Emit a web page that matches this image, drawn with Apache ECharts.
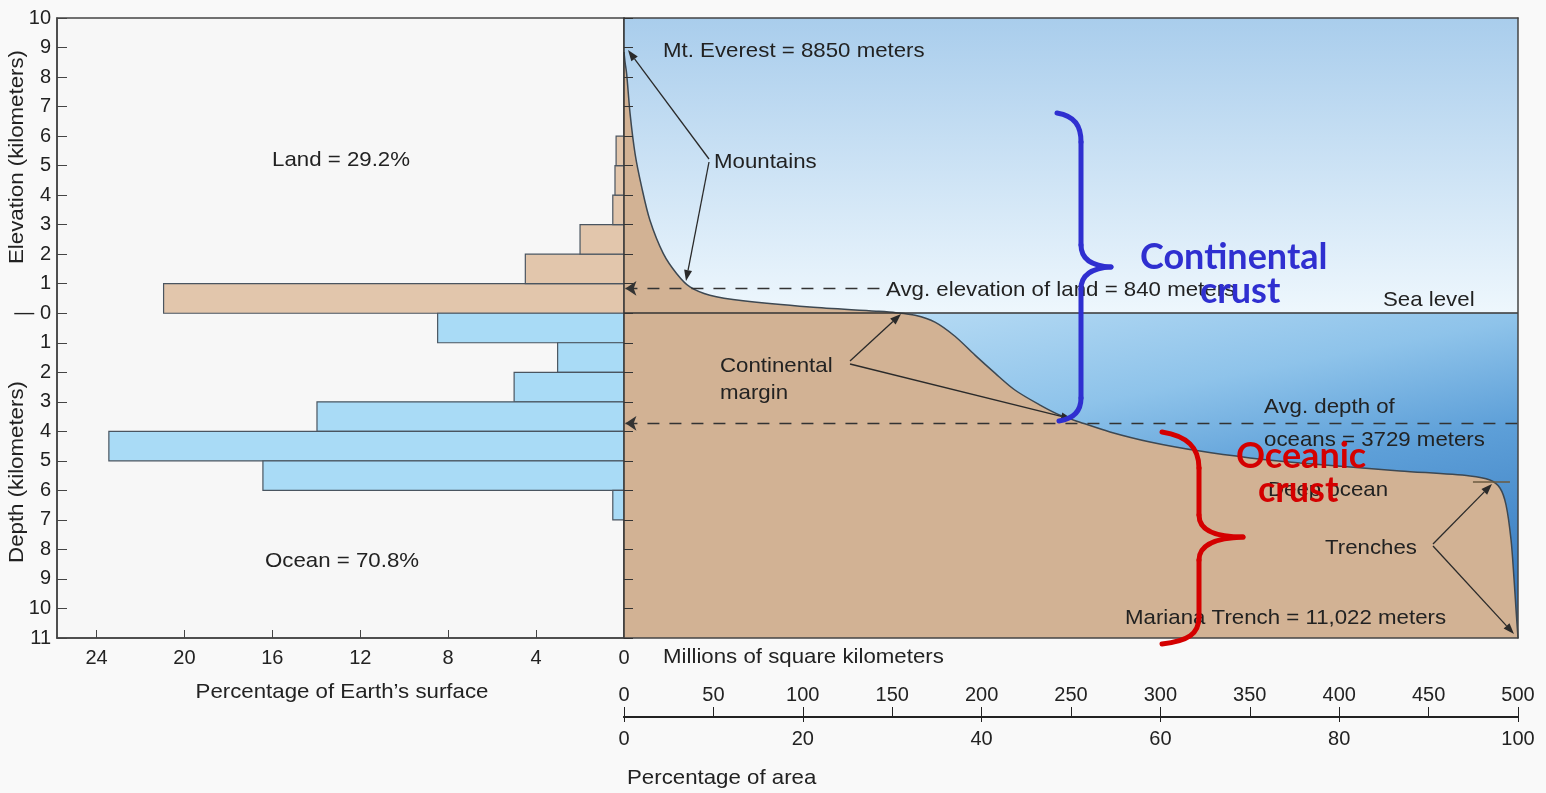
<!DOCTYPE html>
<html>
<head>
<meta charset="utf-8">
<title>Hypsometric curve</title>
<script src="https://cdn.jsdelivr.net/npm/echarts@6/dist/echarts.min.js"></script>
<style>
  html, body { margin: 0; padding: 0; background: #f9f9f9; }
  #chart { width: 1546px; height: 793px; }
</style>
</head>
<body>
<div id="chart"></div>
<script>
// histogram: percentage of Earth's surface per 1 km band
var landBandLow = [0, 1, 2, 3, 4, 5];
var landPct = [20.95, 4.49, 2.0, 0.51, 0.41, 0.36];
var oceanBandLow = [-1, -2, -3, -4, -5, -6, -7];
var oceanPct = [8.48, 3.02, 5.0, 13.97, 23.44, 16.43, 0.51];

// hypsometric curve: cumulative area (millions km2) vs elevation (km)
var curveArea = [0, 0.6, 1.5, 3.4, 6.2, 9.9, 14.5, 22, 29.5, 36.9, 48, 66.6, 104, 141, 152,
  162.8, 173.9, 185.1, 196.3, 207.5, 218.6, 232.7, 243.8, 255, 271.8, 294.2, 322.1, 350.1,
  378.1, 434, 473.2, 484.3, 489.9, 493.3, 496.1, 497.8, 498.9, 500];
var curveElev = [8.85, 8.5, 8.1, 6.76, 5.4, 4.27, 3.15, 2.02, 1.34, 0.89, 0.61, 0.42, 0.21, 0.07, 0.02,
  -0.07, -0.3, -0.78, -1.42, -2.03, -2.6, -3.11, -3.45, -3.69, -4.02, -4.36, -4.67, -4.9,
  -5.07, -5.34, -5.51, -5.65, -5.92, -6.49, -7.67, -9.02, -10.04, -11];

var avgLand = 0.84;
var avgDepth = -3.729;
var deepOceanLevel = -5.72;

var F = '"Liberation Sans", Arial, sans-serif';
var TXT = '#222';
var LINE = '#444';

var chart = echarts.init(document.getElementById('chart'));

function barRender(fill) {
  return function (params, api) {
    var pct = api.value(0), lo = api.value(1);
    var p1 = api.coord([pct, lo + 1]);
    var p0 = api.coord([0, lo]);
    return {
      type: 'rect',
      shape: { x: Math.min(p0[0], p1[0]), y: p1[1], width: Math.abs(p0[0] - p1[0]), height: p0[1] - p1[1] },
      style: { fill: fill, stroke: '#4a5560', lineWidth: 1.2 }
    };
  };
}

function arrow(x1, y1, x2, y2) {
  var a = Math.atan2(y2 - y1, x2 - x1), L = 11, W = 4;
  var bx = x2 - L * Math.cos(a), by = y2 - L * Math.sin(a);
  return [
    { type: 'line', z: 100, shape: { x1: x1, y1: y1, x2: bx, y2: by }, style: { stroke: '#2a2a2a', lineWidth: 1.3 } },
    { type: 'polygon', z: 100, shape: { points: [[x2, y2], [bx - W * Math.sin(a), by + W * Math.cos(a)], [bx + W * Math.sin(a), by - W * Math.cos(a)]] },
      style: { fill: '#2a2a2a' } }
  ];
}

function label(text, x, y, extra) {
  var st = { text: text, x: 0, y: 0, font: '21px ' + F, fill: TXT, align: 'left', verticalAlign: 'middle' };
  if (extra) for (var k in extra) st[k] = extra[k];
  return { type: 'text', z: 100, x: x, y: y, scaleX: 1.06, style: st };
}

// curly brace from cubic segments: each seg = [x1,y1,cpx1,cpy1,cpx2,cpy2,x2,y2]
function brace(segs, color) {
  return segs.map(function (s) {
    return { type: 'bezierCurve', z: 110,
      shape: { x1: s[0], y1: s[1], cpx1: s[2], cpy1: s[3], cpx2: s[4], cpy2: s[5], x2: s[6], y2: s[7] },
      style: { fill: null, stroke: color, lineWidth: 5, lineCap: 'round' } };
  });
}

var els = [];
els.push(label('Elevation (kilometers)', 17, 157, { align: 'center' }));
els[els.length - 1].rotation = Math.PI / 2;
els.push(label('Depth (kilometers)', 17, 472, { align: 'center' }));
els[els.length - 1].rotation = Math.PI / 2;
els.push(label('Land = 29.2%', 272, 160));
els.push(label('Ocean = 70.8%', 265, 561));
els.push(label('Mt. Everest = 8850 meters', 663, 51));
els.push(label('Mountains', 714, 162));
els.push(label('Avg. elevation of land = 840 meters', 886, 290));
els.push(label('Sea level', 1383, 300));
els.push(label('Continental', 720, 366));
els.push(label('margin', 720, 393));
els.push(label('Avg. depth of', 1264, 407));
els.push(label('oceans = 3729 meters', 1264, 440));
els.push(label('Deep ocean', 1268, 490));
els.push(label('Trenches', 1325, 548));
els.push(label('Mariana Trench = 11,022 meters', 1125, 618));
els.push(label('Millions of square kilometers', 663, 657));
els.push(label('Percentage of Earth\u2019s surface', 342, 692, { align: 'center' }));
els.push(label('Percentage of area', 627, 778));
els = els.concat(arrow(709, 159, 628, 50));
els = els.concat(arrow(709, 162, 686, 281));
els = els.concat(arrow(850, 361, 901, 314));
els = els.concat(arrow(850, 364, 1072, 419));
els = els.concat(arrow(1433, 544, 1492, 484));
els = els.concat(arrow(1433, 546, 1514, 634));

els = els.concat(brace([
  [1057, 113, 1075, 116, 1081, 126, 1081, 142],
  [1081, 142, 1081, 180, 1081, 210, 1081, 245],
  [1081, 245, 1081, 259, 1092, 266, 1111, 267],
  [1111, 267, 1092, 268, 1081, 275, 1081, 289],
  [1081, 289, 1081, 330, 1081, 360, 1081, 398],
  [1081, 398, 1081, 412, 1072, 419, 1059, 421]
], '#2f2fd0'));
els = els.concat(brace([
  [1162, 432, 1188, 436, 1199, 448, 1199, 468],
  [1199, 468, 1199, 485, 1199, 500, 1199, 515],
  [1199, 515, 1199, 530, 1215, 537, 1243, 537],
  [1243, 537, 1215, 538, 1199, 545, 1199, 560],
  [1199, 560, 1199, 580, 1199, 600, 1199, 617],
  [1199, 617, 1199, 634, 1188, 641, 1162, 644]
], '#d40000'));

var bigFont = 'bold 36px Lato, "Open Sans", sans-serif';
els.push({ type: 'text', z: 120, x: 1140, y: 257, style: { text: 'Continental', font: bigFont, fill: '#2f2fd0', verticalAlign: 'middle' } });
els.push({ type: 'text', z: 120, x: 1200, y: 291, style: { text: 'crust', font: bigFont, fill: '#2f2fd0', verticalAlign: 'middle' } });
els.push({ type: 'text', z: 120, x: 1236, y: 456, style: { text: 'Oceanic', font: bigFont, fill: '#d40000', verticalAlign: 'middle' } });
els.push({ type: 'text', z: 120, x: 1258, y: 490, style: { text: 'crust', font: bigFont, fill: '#d40000', verticalAlign: 'middle' } });

var axisLbl = { color: TXT, fontFamily: F, fontSize: 20 };

var option = {
  backgroundColor: '#f9f9f9',
  animation: false,
  grid: [
    { left: 57, top: 18, width: 567, height: 620, show: true, backgroundColor: '#f7f7f7', borderColor: LINE, borderWidth: 1.5 },
    { left: 624, top: 18, width: 894, height: 620, show: false }
  ],
  xAxis: [
    { gridIndex: 0, type: 'value', inverse: true, min: 0, max: 25.8, interval: 4, position: 'bottom',
      axisLine: { onZero: false, lineStyle: { color: LINE, width: 1.5 } },
      axisTick: { inside: true, length: 8, lineStyle: { color: LINE } },
      axisLabel: Object.assign({ margin: 10, showMaxLabel: false }, axisLbl),
      splitLine: { show: false } },
    { gridIndex: 1, type: 'value', min: 0, max: 500, position: 'bottom', z: 10,
      axisLine: { onZero: false, lineStyle: { color: LINE, width: 1.5 } },
      axisTick: { show: false }, axisLabel: { show: false }, splitLine: { show: false } },
    { gridIndex: 1, type: 'value', min: 0, max: 500, interval: 50, position: 'bottom', offset: 79,
      axisLine: { onZero: false, lineStyle: { color: '#222', width: 2 } },
      axisTick: { inside: true, length: 10, lineStyle: { color: '#222' } },
      axisLabel: Object.assign({ inside: true, margin: 12 }, axisLbl),
      splitLine: { show: false } },
    { gridIndex: 1, type: 'value', min: 0, max: 100, interval: 20, position: 'bottom', offset: 79,
      axisLine: { onZero: false, lineStyle: { color: '#222', width: 2 } },
      axisTick: { inside: false, length: 5, lineStyle: { color: '#222' } },
      axisLabel: Object.assign({ margin: 12 }, axisLbl),
      splitLine: { show: false } },
    { gridIndex: 1, type: 'value', min: 0, max: 500, position: 'top', z: 10,
      axisLine: { onZero: false, lineStyle: { color: LINE, width: 1.5 } },
      axisTick: { show: false }, axisLabel: { show: false }, splitLine: { show: false } }
  ],
  yAxis: [
    { gridIndex: 0, type: 'value', min: -11, max: 10, interval: 1, position: 'left',
      axisLine: { show: true, onZero: false, lineStyle: { color: LINE, width: 1.5 } },
      axisTick: { show: true, inside: true, length: 10, lineStyle: { color: LINE } },
      axisLabel: Object.assign({}, axisLbl, { margin: 6, formatter: function (v) { return v === 0 ? '\u2014 0' : String(Math.abs(v)); } }),
      splitLine: { show: false } },
    { gridIndex: 1, type: 'value', min: -11, max: 10, interval: 1, position: 'left', z: 10,
      axisLine: { show: true, onZero: false, lineStyle: { color: '#333', width: 1.5 } },
      axisTick: { show: true, inside: true, length: 9, lineStyle: { color: '#333' } },
      axisLabel: { show: false }, splitLine: { show: false } },
    { gridIndex: 1, type: 'value', min: -11, max: 10, position: 'right', z: 10,
      axisLine: { show: true, onZero: false, lineStyle: { color: LINE, width: 1.5 } },
      axisTick: { show: false }, axisLabel: { show: false }, splitLine: { show: false } }
  ],
  series: [
    { type: 'custom', name: 'Land', xAxisIndex: 0, yAxisIndex: 0, z: 3,
      renderItem: barRender('#e2c6ac'),
      encode: { x: 0, y: 1 },
      data: landPct.map(function (p, i) { return [p, landBandLow[i]]; }) },
    { type: 'custom', name: 'Ocean', xAxisIndex: 0, yAxisIndex: 0, z: 3,
      renderItem: barRender('#a9dbf6'),
      encode: { x: 0, y: 1 },
      data: oceanPct.map(function (p, i) { return [p, oceanBandLow[i]]; }) },
    { type: 'line', name: 'Hypsometric curve', xAxisIndex: 1, yAxisIndex: 1, z: 3,
      symbol: 'none', smooth: 0.3,
      lineStyle: { color: '#3d4852', width: 1.5 },
      itemStyle: { color: '#d2b294' },
      areaStyle: { color: '#d2b294', opacity: 1, origin: 'start' },
      data: curveArea.map(function (a, i) { return [a, curveElev[i]]; }),
      markArea: {
        silent: true, label: { show: false },
        data: [
          [{ coord: [0, 10], itemStyle: { opacity: 1, color: { type: 'linear', x: 0, y: 0, x2: 0, y2: 1,
              colorStops: [{ offset: 0, color: '#a9cdec' }, { offset: 1, color: '#eef7fd' }] } } }, { coord: [500, 0] }],
          [{ coord: [0, 0], itemStyle: { opacity: 1, color: { type: 'linear', x: 0, y: 0, x2: 0.1, y2: 1.41,
              colorStops: [{ offset: 0, color: '#c4e3f8' }, { offset: 0.16, color: '#aed6f2' }, { offset: 0.38, color: '#8ec3ea' },
                { offset: 0.6, color: '#5d9fd8' }, { offset: 1, color: '#3577bd' }] } } }, { coord: [500, -11] }]
        ]
      },
      markLine: {
        silent: true, animation: false, symbolSize: 11,
        label: { show: false },
        emphasis: { disabled: true },
        data: [
          [{ coord: [0, 0], symbol: 'none', lineStyle: { color: '#333', width: 1.5, type: 'solid' } }, { coord: [500, 0], symbol: 'none' }],
          [{ coord: [0.8, avgLand], symbol: 'arrow', lineStyle: { color: '#333', width: 1.3, type: [12, 10] } }, { coord: [143, avgLand], symbol: 'none' }],
          [{ coord: [0.8, avgDepth], symbol: 'arrow', lineStyle: { color: '#333', width: 1.3, type: [12, 10] } }, { coord: [500, avgDepth], symbol: 'none' }],
          [{ coord: [474.8, deepOceanLevel], symbol: 'none', lineStyle: { color: '#6b5a40', width: 1.5, type: 'solid' } }, { coord: [495.5, deepOceanLevel], symbol: 'none' }]
        ]
      }
    }
  ],
  graphic: { elements: els }
};

chart.setOption(option);
</script>
</body>
</html>
